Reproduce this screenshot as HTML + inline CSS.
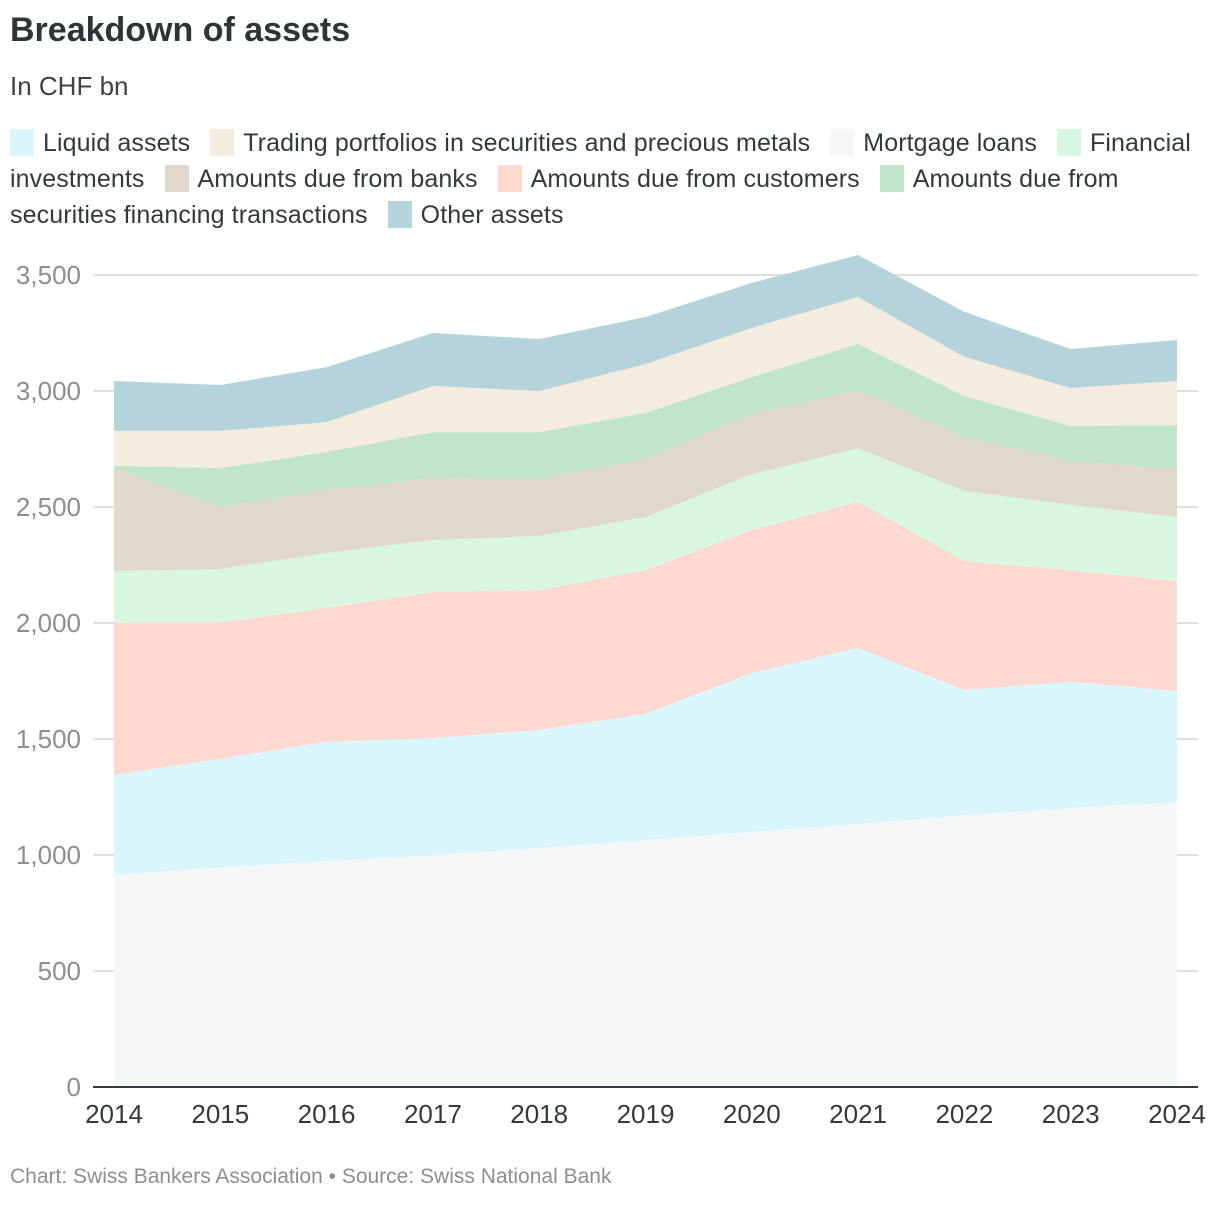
<!DOCTYPE html>
<html><head><meta charset="utf-8">
<style>
body{margin:0;background:#fff;width:1220px;height:1206px;overflow:hidden;font-family:"Liberation Sans",sans-serif;color:#333a3d;position:relative}
.title{position:absolute;left:10px;top:11px;font-size:34px;font-weight:bold;color:#2e3537}
.sub{position:absolute;left:10px;top:71px;font-size:26px;color:#3c4245}
.lg{position:absolute;left:10px;font-size:25px;color:#333a3d;white-space:nowrap;letter-spacing:0.1px}
.sw{display:inline-block;width:24px;height:27px;vertical-align:-5px;margin-right:9px}
.gap{display:inline-block;width:20px}
.foot{position:absolute;left:10px;top:1165px;font-size:21px;color:#8a8f92}
</style></head><body>
<div class="title">Breakdown of assets</div>
<div class="sub">In CHF bn</div>
<div class="lg" style="top:129px"><span class="sw" style="background:#d9f6fd"></span>Liquid assets<span class="gap"></span><span class="sw" style="background:#f3ecdf"></span>Trading portfolios in securities and precious metals<span class="gap"></span><span class="sw" style="background:#f5f6f8"></span>Mortgage loans<span class="gap"></span><span class="sw" style="background:#d9f6e0"></span>Financial</div>
<div class="lg" style="top:165px">investments<span class="gap"></span><span class="sw" style="background:#e0d8cc"></span>Amounts due from banks<span class="gap"></span><span class="sw" style="background:#fdd9d2"></span>Amounts due from customers<span class="gap"></span><span class="sw" style="background:#c0e5c8"></span>Amounts due from</div>
<div class="lg" style="top:201px">securities financing transactions<span class="gap"></span><span class="sw" style="background:#b5d3da"></span>Other assets</div>
<svg id="chart" width="1220" height="1206" style="position:absolute;left:0;top:0"></svg>
<div class="foot">Chart: Swiss Bankers Association • Source: Swiss National Bank</div>
<script>
const years=[2014,2015,2016,2017,2018,2019,2020,2021,2022,2023,2024];
const mortgage=[914,948,974,1000,1030,1065,1099,1134,1172,1203,1228];
const liquid=[431,466,513,504,509,543,685,758,539,543,479];
const customers=[655,590,578,630,603,620,617,630,556,482,474];
const financial=[224,229,237,224,233,229,241,232,302,281,276];
const banks=[448,267,271,267,246,250,259,250,233,189,207];
const secfin=[5,168,164,198,202,198,159,199,176,151,189];
const trading=[151,160,129,199,177,211,212,202,169,164,190];
const other=[215,198,237,228,224,203,194,181,194,168,177];
const yTicks=[0,500,1000,1500,2000,2500,3000,3500];
const yTickLabels=["0","500","1,000","1,500","2,000","2,500","3,000","3,500"];

const NS="http://www.w3.org/2000/svg";
const svg=document.getElementById('chart');
const x=i=>114+(1177-114)*i/(years.length-1);
const y=v=>1087-v*(812/3500);
function mk(t,a){const e=document.createElementNS(NS,t);for(const k in a)e.setAttribute(k,a[k]);svg.appendChild(e);return e;}
yTicks.forEach((t,i)=>{
  if(t>0){const g=mk('line',{x1:93,x2:1198,y1:y(t),y2:y(t),stroke:'#d3d5d6','stroke-width':1.5});
  
  }
  const l=mk('text',{x:81,y:y(t)+9,'text-anchor':'end','font-size':26,fill:'#8a8f92','font-family':'Liberation Sans, sans-serif'});
  l.textContent=yTickLabels[i];
  
  
});
const series=[
 ['mortgage-loans-area',mortgage,'#f5f6f8'],
 ['liquid-assets-area',liquid,'#d9f6fd'],
 ['customers-area',customers,'#fdd9d2'],
 ['financial-investments-area',financial,'#d9f6e0'],
 ['banks-area',banks,'#e0d8cc'],
 ['securities-financing-area',secfin,'#c0e5c8'],
 ['trading-portfolios-area',trading,'#f3ecdf'],
 ['other-assets-area',other,'#b5d3da']];
let base=years.map(()=>0);
series.forEach(([name,vals,col])=>{
  const top=base.map((b,i)=>b+vals[i]);
  let d='M'+top.map((v,i)=>x(i)+','+y(v)).join('L');
  for(let i=years.length-1;i>=0;i--) d+='L'+x(i)+','+y(base[i]);
  const p=mk('path',{d:d+'Z',fill:col});
  
  
  base=top;
});
const ax=mk('line',{x1:93,x2:1198,y1:1087,y2:1087,stroke:'#333a3d','stroke-width':2});


years.forEach((yr,i)=>{
  const t=mk('text',{x:x(i),y:1123,'text-anchor':'middle','font-size':26,fill:'#333a3d','font-family':'Liberation Sans, sans-serif'});
  t.textContent=yr;
  
  
});
</script>
</body></html>
